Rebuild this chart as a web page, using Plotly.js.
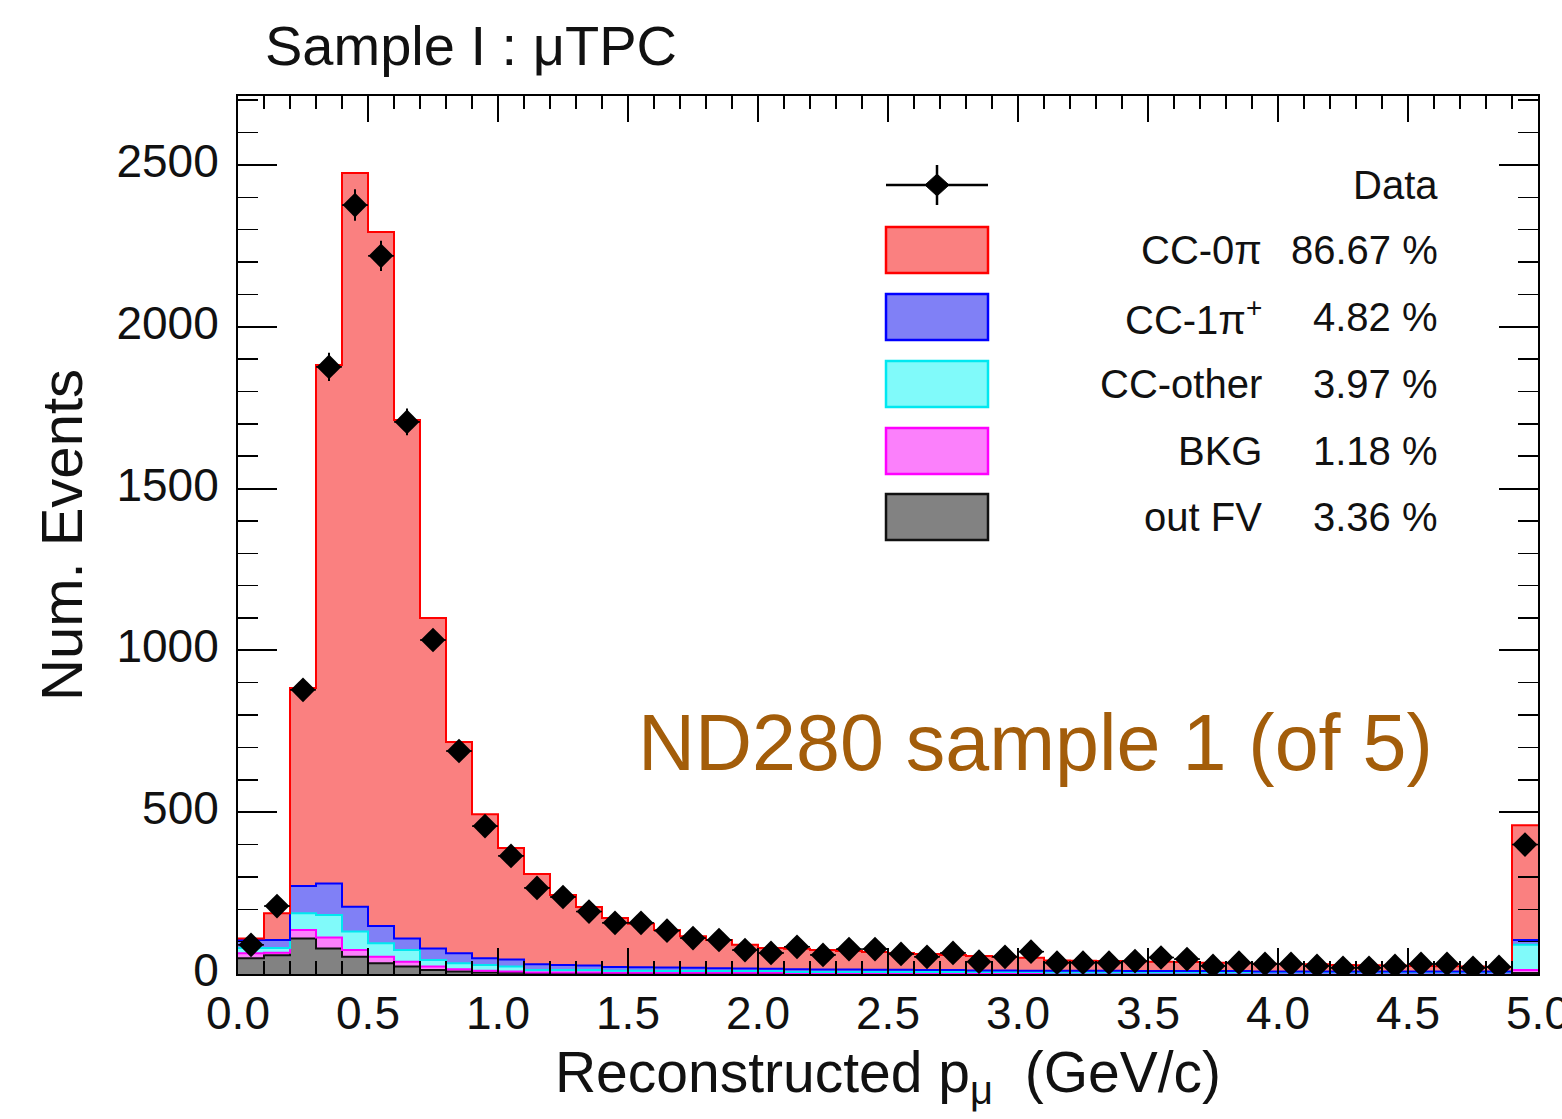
<!DOCTYPE html>
<html>
<head>
<meta charset="utf-8">
<script src="https://cdn.plot.ly/plotly-3.0.1.min.js"></script>
<style>html,body{margin:0;padding:0;background:#fff;}#chart{width:1562px;height:1119px;}</style>
</head>
<body>
<div id="chart"></div>
<script>
// ---- data ----
const binCenters = [0.05,0.15,0.25,0.35,0.45,0.55,0.65,0.75,0.85,0.95,
  1.05,1.15,1.25,1.35,1.45,1.55,1.65,1.75,1.85,1.95,
  2.05,2.15,2.25,2.35,2.45,2.55,2.65,2.75,2.85,2.95,
  3.05,3.15,3.25,3.35,3.45,3.55,3.65,3.75,3.85,3.95,
  4.05,4.15,4.25,4.35,4.45,4.55,4.65,4.75,4.85,4.95];
const binWidth = 0.1;

const dataCounts = [90,210,878,1876,2376,2219,1706,1032,689,457,
  365,266,238,193,158,158,134,111,105,74,
  65,84,59,77,77,62,53,65,38,53,
  69,35,35,35,40,51,46,25,35,31,
  31,25,19,19,25,31,31,19,22,400];

const outFV = [49,58,110,79,53,33,23,12,8,5,
  4,3,3,3,2,2,2,2,2,2,
  2,1,1,1,1,1,1,1,1,1,
  1,1,1,1,1,1,1,1,1,1,
  1,1,1,1,1,1,1,1,1,3];
const bkg = [15,8,26,34,21,20,15,11,7,5,
  4,2,2,2,2,2,2,2,2,2,
  2,1,1,1,1,1,1,1,1,1,
  1,1,1,1,1,1,1,1,1,1,
  1,1,1,1,1,1,1,1,1,9];
const ccOther = [16,14,52,69,57,42,36,20,18,18,
  15,7,7,7,6,6,5,5,5,5,
  5,4,4,4,4,4,4,4,4,4,
  4,3,3,3,3,3,3,3,3,3,
  3,3,3,3,3,3,3,3,3,78];
const cc1pi = [25,25,84,98,77,53,36,36,31,21,
  22,18,16,14,12,11,11,10,9,8,
  7,9,8,8,7,7,6,6,5,5,
  4,5,5,5,4,4,4,4,4,3,
  3,3,3,3,3,3,3,3,3,15];
const cc0pi = [5,83,612,1602,2267,2145,1602,1021,653,445,
  344,279,216,181,151,134,116,98,87,73,
  64,63,60,57,55,52,50,47,45,42,
  40,32,31,30,30,29,28,26,24,24,
  23,22,20,19,18,17,16,15,14,355];

const xTickVals = [0, 0.5, 1.0, 1.5, 2.0, 2.5, 3.0, 3.5, 4.0, 4.5, 5.0];
const xTickText = ['0.0','0.5','1.0','1.5','2.0','2.5','3.0','3.5','4.0','4.5','5.0'];
const yTickVals = [0, 500, 1000, 1500, 2000, 2500];

const legendNames = ['CC-0π', 'CC-1π<sup>+</sup>', 'CC-other', 'BKG', 'out FV'];
const legendPercents = ['86.67 %', '4.82 %', '3.97 %', '1.18 %', '3.36 %'];
const dataLabel = 'Data';
const titleText = 'Sample I : μTPC';
const xTitle = 'Reconstructed p<sub>μ</sub>  (GeV/c)';
const yTitle = 'Num. Events';
const noteText = 'ND280 sample 1 (of 5)';

// ---- styles ----
const FONT = 'Liberation Sans, Arial, Helvetica, sans-serif';
// stack order bottom -> top
const stack = [
  {vals: outFV,   fill: '#828282', line: '#111111'},
  {vals: bkg,     fill: '#fb80fb', line: '#ff00ff'},
  {vals: ccOther, fill: '#80fafa', line: '#00e8f0'},
  {vals: cc1pi,   fill: '#8080f6', line: '#0000ff'},
  {vals: cc0pi,   fill: '#fa8080', line: '#ff0000'}
];

const traces = [];
stack.forEach(s => {
  traces.push({
    type: 'bar', x: binCenters, y: s.vals, width: binWidth,
    marker: {color: s.fill, line: {color: s.fill, width: 0.6}},
    showlegend: false, hoverinfo: 'skip'
  });
});
// step outlines of each cumulative layer
const edges = binCenters.map(c => c - binWidth / 2).concat([binCenters[binCenters.length - 1] + binWidth / 2]);
let cum = binCenters.map(() => 0);
stack.forEach(s => {
  cum = cum.map((v, i) => v + s.vals[i]);
  traces.push({
    type: 'scatter', mode: 'lines', x: edges, y: cum.concat([cum[cum.length - 1]]),
    line: {shape: 'hv', color: s.line, width: 2},
    showlegend: false, hoverinfo: 'skip'
  });
});
// data points
traces.push({
  type: 'scatter', mode: 'markers', x: binCenters, y: dataCounts,
  marker: {symbol: 'diamond', size: 19, color: 'black'},
  error_y: {type: 'sqrt', visible: true, color: 'black', thickness: 2, width: 0},
  error_x: {type: 'constant', value: binWidth / 2, visible: true, color: 'black', thickness: 1.5, width: 0},
  showlegend: false, hoverinfo: 'skip'
});

// ---- hand-drawn legend (paper coords) ----
const L = 238, R = 1538, T = 96, B = 974;
const px = v => (v - L) / (R - L);
const py = v => (B - v) / (B - T);
const shapes = [];
const annotations = [];
const boxX0 = px(886), boxX1 = px(988);
const rowY = [250, 317, 384, 451, 517];
const legendOrder = [4, 3, 2, 1, 0]; // stack index for each legend row
rowY.forEach((yc, k) => {
  const s = stack[legendOrder[k]];
  shapes.push({type: 'rect', xref: 'paper', yref: 'paper', x0: boxX0, x1: boxX1,
    y0: py(yc + 23), y1: py(yc - 23), fillcolor: s.fill, line: {color: s.line, width: 2.5}});
  annotations.push({xref: 'paper', yref: 'paper', x: px(1264), y: py(yc), xanchor: 'right', yanchor: 'middle',
    text: legendNames[k], showarrow: false, font: {family: FONT, size: 40, color: '#111'}});
  annotations.push({xref: 'paper', yref: 'paper', x: px(1440), y: py(yc), xanchor: 'right', yanchor: 'middle',
    text: legendPercents[k], showarrow: false, font: {family: FONT, size: 40, color: '#111'}});
});
// data entry
const dy = 185, dxc = 937;
shapes.push({type: 'line', xref: 'paper', yref: 'paper', x0: boxX0, x1: boxX1, y0: py(dy), y1: py(dy), line: {color: 'black', width: 2.5}});
shapes.push({type: 'line', xref: 'paper', yref: 'paper', x0: px(dxc), x1: px(dxc), y0: py(dy - 20), y1: py(dy + 20), line: {color: 'black', width: 2.5}});
shapes.push({type: 'path', xref: 'paper', yref: 'paper',
  path: `M ${px(dxc - 12)},${py(dy)} L ${px(dxc)},${py(dy - 11)} L ${px(dxc + 12)},${py(dy)} L ${px(dxc)},${py(dy + 11)} Z`,
  fillcolor: 'black', line: {color: 'black', width: 1}});
annotations.push({xref: 'paper', yref: 'paper', x: px(1440), y: py(dy), xanchor: 'right', yanchor: 'middle',
  text: dataLabel, showarrow: false, font: {family: FONT, size: 40, color: '#111'}});
// note
annotations.push({xref: 'paper', yref: 'paper', x: px(1435), y: py(742), xanchor: 'right', yanchor: 'middle',
  text: noteText, showarrow: false, font: {family: FONT, size: 79, color: '#a35d0a'}});

const layout = {
  width: 1562, height: 1119,
  margin: {l: L, r: 1562 - R, t: T, b: 1119 - B, pad: 0},
  paper_bgcolor: 'white', plot_bgcolor: 'white',
  barmode: 'stack', bargap: 0,
  font: {family: FONT, color: '#111'},
  title: {text: titleText, font: {family: FONT, size: 56, color: '#111'},
    xref: 'container', x: 265 / 1562, xanchor: 'left', yref: 'container', y: 1 - 45 / 1119, yanchor: 'middle'},
  xaxis: {
    range: [0, 5], tickmode: 'array', tickvals: xTickVals, ticktext: xTickText,
    ticks: 'inside', ticklen: 26, tickwidth: 2, tickcolor: 'black',
    minor: {dtick: 0.1, tick0: 0, ticks: 'inside', ticklen: 13, tickwidth: 1.5, tickcolor: 'black'},
    showline: true, linecolor: 'black', linewidth: 2, mirror: 'allticks',
    showgrid: false, zeroline: false,
    tickfont: {family: FONT, size: 46, color: '#111'}, ticklabelstandoff: -2,
    ticklabeloverflow: 'allow',
    title: {text: xTitle, font: {family: FONT, size: 57, color: '#111'}, standoff: 14},
    automargin: false
  },
  yaxis: {
    range: [0, 2713], tickmode: 'array', tickvals: yTickVals,
    ticks: 'inside', ticklen: 39, tickwidth: 2, tickcolor: 'black',
    minor: {dtick: 100, tick0: 0, ticks: 'inside', ticklen: 20, tickwidth: 1.5, tickcolor: 'black'},
    showline: true, linecolor: 'black', linewidth: 2, mirror: 'allticks',
    showgrid: false, zeroline: false,
    tickfont: {family: FONT, size: 46, color: '#111'}, ticklabelstandoff: 8, ticklabelshift: -4,
    title: {text: yTitle, font: {family: FONT, size: 58, color: '#111'}, standoff: 15},
    automargin: false
  },
  shapes: shapes,
  annotations: annotations,
  showlegend: false
};

Plotly.newPlot('chart', traces, layout, {staticPlot: true, displayModeBar: false});
</script>
</body>
</html>
